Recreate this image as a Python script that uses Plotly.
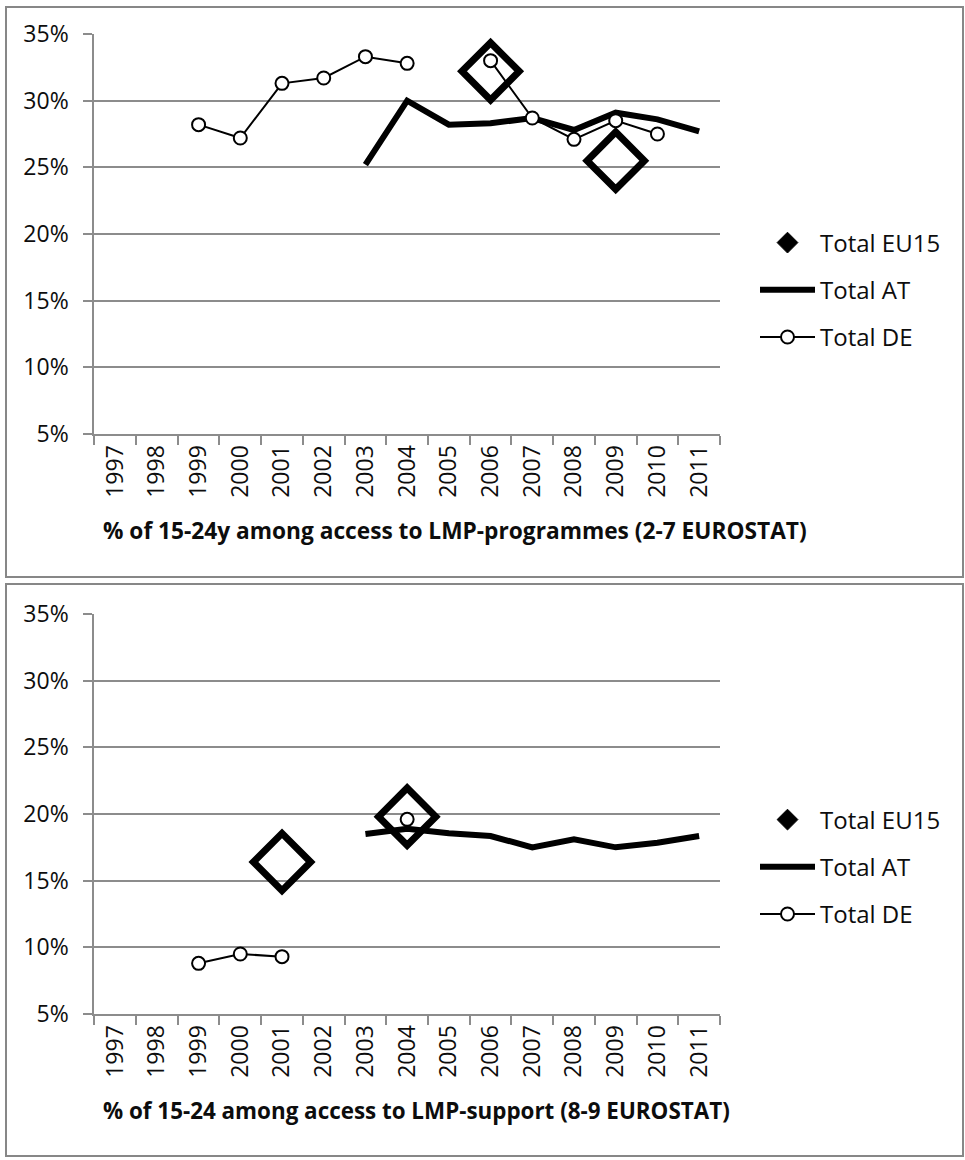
import plotly.graph_objects as go

# Category axis: years
years = [str(y) for y in range(1997, 2012)]

# Panel 1: % of 15-24y among access to LMP-programmes (2-7 EUROSTAT)
eu15_prog = [None, None, None, None, None, None, None, None, None, 32.2, None, None, 25.5, None, None]
at_prog = [None, None, None, None, None, None, 25.2, 30.0, 28.2, 28.3, 28.7, 27.8, 29.1, 28.6, 27.7]
de_prog = [None, None, 28.2, 27.2, 31.3, 31.7, 33.3, 32.8, None, 33.0, 28.7, 27.1, 28.5, 27.5, None]

# Panel 2: % of 15-24 among access to LMP-support (8-9 EUROSTAT)
eu15_supp = [None, None, None, None, 16.4, None, None, 19.8, None, None, None, None, None, None, None]
at_supp = [None, None, None, None, None, None, 18.5, 18.9, 18.55, 18.35, 17.5, 18.1, 17.5, 17.85, 18.35]
de_supp = [None, None, 8.8, 9.5, 9.3, None, None, 19.6, None, None, None, None, None, None, None]

titles = [
    "% of 15-24y among access to LMP-programmes (2-7 EUROSTAT)",
    "% of 15-24 among access to LMP-support (8-9 EUROSTAT)",
]

W, H = 965, 1160
FONT = "Open Sans, Lato, sans-serif"
GRID = "#8c8c8c"
TXT = "#0d0d0d"


def px_x(p):
    return p / W


def px_y(p):
    return 1 - p / H


fig = go.Figure()

panels = [
    (eu15_prog, at_prog, de_prog, "x", "y", "legend"),
    (eu15_supp, at_supp, de_supp, "x2", "y2", "legend2"),
]

for eu, at, de, xa, ya, lg in panels:
    # EU15: large open diamonds in the plot
    fig.add_trace(go.Scatter(
        x=years, y=eu, name="Total EU15", mode="markers",
        marker=dict(symbol="diamond-open", size=44, color="black",
                    line=dict(width=7, color="black")),
        xaxis=xa, yaxis=ya, legend=lg, legendgroup="eu" + lg,
        showlegend=False, cliponaxis=False,
    ))
    # legend key for EU15 (solid diamond)
    fig.add_trace(go.Scatter(
        x=[None], y=[None], name="Total EU15", mode="markers",
        marker=dict(symbol="diamond", size=20, color="black",
                    line=dict(width=1, color="black")),
        xaxis=xa, yaxis=ya, legend=lg, legendgroup="eu" + lg,
        hoverinfo="skip",
    ))
    fig.add_trace(go.Scatter(
        x=years, y=at, name="Total AT", mode="lines",
        line=dict(color="black", width=6),
        xaxis=xa, yaxis=ya, legend=lg, legendgroup="at" + lg,
    ))
    fig.add_trace(go.Scatter(
        x=years, y=de, name="Total DE", mode="lines+markers",
        line=dict(color="black", width=2),
        marker=dict(symbol="circle", size=13, color="white",
                    line=dict(width=2, color="black")),
        xaxis=xa, yaxis=ya, legend=lg, legendgroup="de" + lg,
        cliponaxis=False,
    ))

# Plot areas (pixel boxes): x 94..720; top y 34..434, bottom y 614..1014
x_dom = [px_x(94.3), px_x(720)]
top_dom = [px_y(434), px_y(34)]
bot_dom = [px_y(1014), px_y(614)]

xaxis_common = dict(
    type="category", categoryorder="array", categoryarray=years,
    range=[-0.5, len(years) - 0.5], autorange=False,
    tickson="boundaries", ticks="outside", ticklen=9, tickwidth=2, tickcolor=GRID,
    showline=True, linecolor=GRID, linewidth=2, showgrid=False,
    tickangle=-90, tickfont=dict(family=FONT, size=23, color=TXT),
    domain=x_dom, fixedrange=True, automargin=False,
)
yaxis_common = dict(
    range=[5, 35], autorange=False, dtick=5, tick0=5, ticksuffix="%",
    ticks="outside", ticklen=9, tickwidth=2, tickcolor=GRID,
    showline=True, linecolor=GRID, linewidth=2,
    showgrid=True, gridcolor=GRID, gridwidth=2, zeroline=False,
    tickfont=dict(family=FONT, size=23, color=TXT),
    ticklabelstandoff=10, fixedrange=True, automargin=False,
)

legend_common = dict(
    font=dict(family=FONT, size=24, color=TXT),
    bgcolor="rgba(0,0,0,0)", itemwidth=55, tracegroupgap=13,
    xanchor="left", yanchor="middle", traceorder="grouped",
    itemclick=False, itemdoubleclick=False,
)

fig.update_layout(
    width=W, height=H,
    margin=dict(l=0, r=0, t=0, b=0, autoexpand=False),
    paper_bgcolor="white", plot_bgcolor="white",
    font=dict(family=FONT, color=TXT),
    xaxis=dict(xaxis_common, anchor="y"),
    yaxis=dict(yaxis_common, domain=top_dom, anchor="x"),
    xaxis2=dict(xaxis_common, anchor="y2"),
    yaxis2=dict(yaxis_common, domain=bot_dom, anchor="x2"),
    legend=dict(legend_common, x=px_x(755), y=px_y(290)),
    legend2=dict(legend_common, x=px_x(755), y=px_y(867)),
    shapes=[
        dict(type="rect", xref="paper", yref="paper",
             x0=px_x(6), x1=px_x(963), y0=px_y(577), y1=px_y(7),
             line=dict(color="#878787", width=2), layer="below"),
        dict(type="rect", xref="paper", yref="paper",
             x0=px_x(6), x1=px_x(963), y0=px_y(1156), y1=px_y(584),
             line=dict(color="#878787", width=2), layer="below"),
    ],
    annotations=[
        dict(text="<b>%s</b>" % titles[0], xref="paper", yref="paper",
             x=px_x(101), y=px_y(531), xanchor="left", yanchor="middle",
             showarrow=False, font=dict(family=FONT, size=22.7, color=TXT)),
        dict(text="<b>%s</b>" % titles[1], xref="paper", yref="paper",
             x=px_x(101), y=px_y(1110), xanchor="left", yanchor="middle",
             showarrow=False, font=dict(family=FONT, size=22.4, color=TXT)),
    ],
)

fig.write_html("out.html", config={"displayModeBar": False})
